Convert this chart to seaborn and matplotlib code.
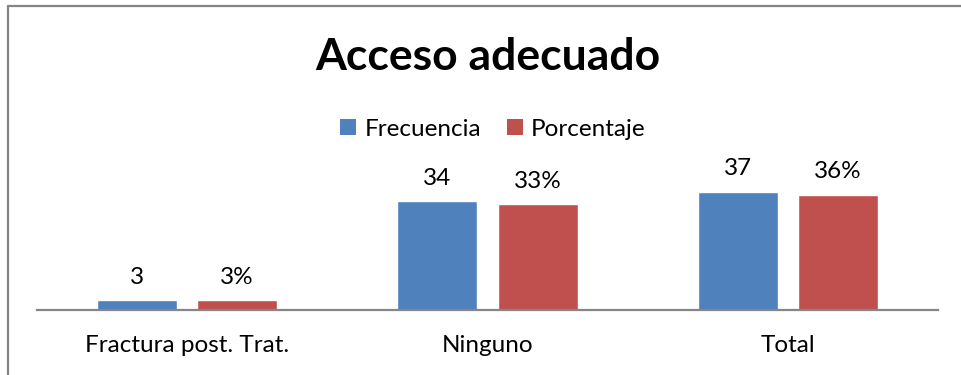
import matplotlib
matplotlib.use("Agg")
import matplotlib.pyplot as plt
from matplotlib.lines import Line2D
from matplotlib.patches import Patch
import seaborn as sns
import pandas as pd

# Data
categorias = ["Fractura post. Trat.", "Ninguno", "Total"]
frecuencia = [3, 34, 37]
porcentaje = [3, 33, 36]
series = ["Frecuencia", "Porcentaje"]
colores = ["#4F81BD", "#C0504D"]

sns.set_theme(style="white")
plt.rcParams["font.family"] = ["Lato", "DejaVu Sans"]
plt.rcParams["text.color"] = "black"
plt.rcParams["xtick.color"] = "black"

df = pd.DataFrame({
    "categoria": categorias * 2,
    "serie": [series[0]] * 3 + [series[1]] * 3,
    "valor": frecuencia + porcentaje,
})

fig = plt.figure(figsize=(9.61, 3.75), dpi=100)
ax = fig.add_axes([37 / 961, 65 / 375, 901 / 961, 160 / 375])

sns.barplot(data=df, x="categoria", y="valor", hue="serie", order=categorias,
            hue_order=series, palette=colores, width=2 / 3, gap=0.2,
            saturation=1, legend=False, ax=ax, errorbar=None)

ax.set_xlim(-0.5, 2.5)
ax.set_ylim(0, 50)
ax.set_xlabel("")
ax.set_ylabel("")
ax.set_yticks([])
for s in ["top", "left", "right"]:
    ax.spines[s].set_visible(False)
ax.spines["bottom"].set_color("#868686")
ax.spines["bottom"].set_linewidth(1.6)
ax.tick_params(axis="x", length=0, pad=18, labelsize=17.5, labelcolor="black")

# Value labels
etiquetas = [[str(v) for v in frecuencia], [f"{v}%" for v in porcentaje]]
for cont, labs in zip(ax.containers, etiquetas):
    for bar, lab in zip(cont, labs):
        ax.annotate(lab, (bar.get_x() + bar.get_width() / 2, bar.get_height()),
                    xytext=(0, 12), textcoords="offset points",
                    ha="center", va="baseline", fontsize=17.5, color="black",
                    annotation_clip=False)

fig.text(488 / 961, 1 - 57 / 375, "Acceso adecuado", ha="center", va="center",
         fontsize=32, fontweight="bold", color="black")

handles = [Patch(facecolor=c, edgecolor="none") for c in colores]
fig.legend(handles, series, loc="center", bbox_to_anchor=(493 / 961, 1 - 129 / 375),
           ncol=2, frameon=False, fontsize=17.5, handlelength=0.65, handleheight=0.65,
           handletextpad=0.35, columnspacing=1.05, borderaxespad=0, labelcolor="black")

# Outer chart frame (top and left edges)
fig.add_artist(Line2D([7.5 / 961, 1], [1 - 6 / 375, 1 - 6 / 375],
                      transform=fig.transFigure, color="#858585", lw=1.6))
fig.add_artist(Line2D([7.5 / 961, 7.5 / 961], [0, 1 - 6 / 375],
                      transform=fig.transFigure, color="#858585", lw=1.6))

fig.savefig("out.png", dpi=100, facecolor="white")
